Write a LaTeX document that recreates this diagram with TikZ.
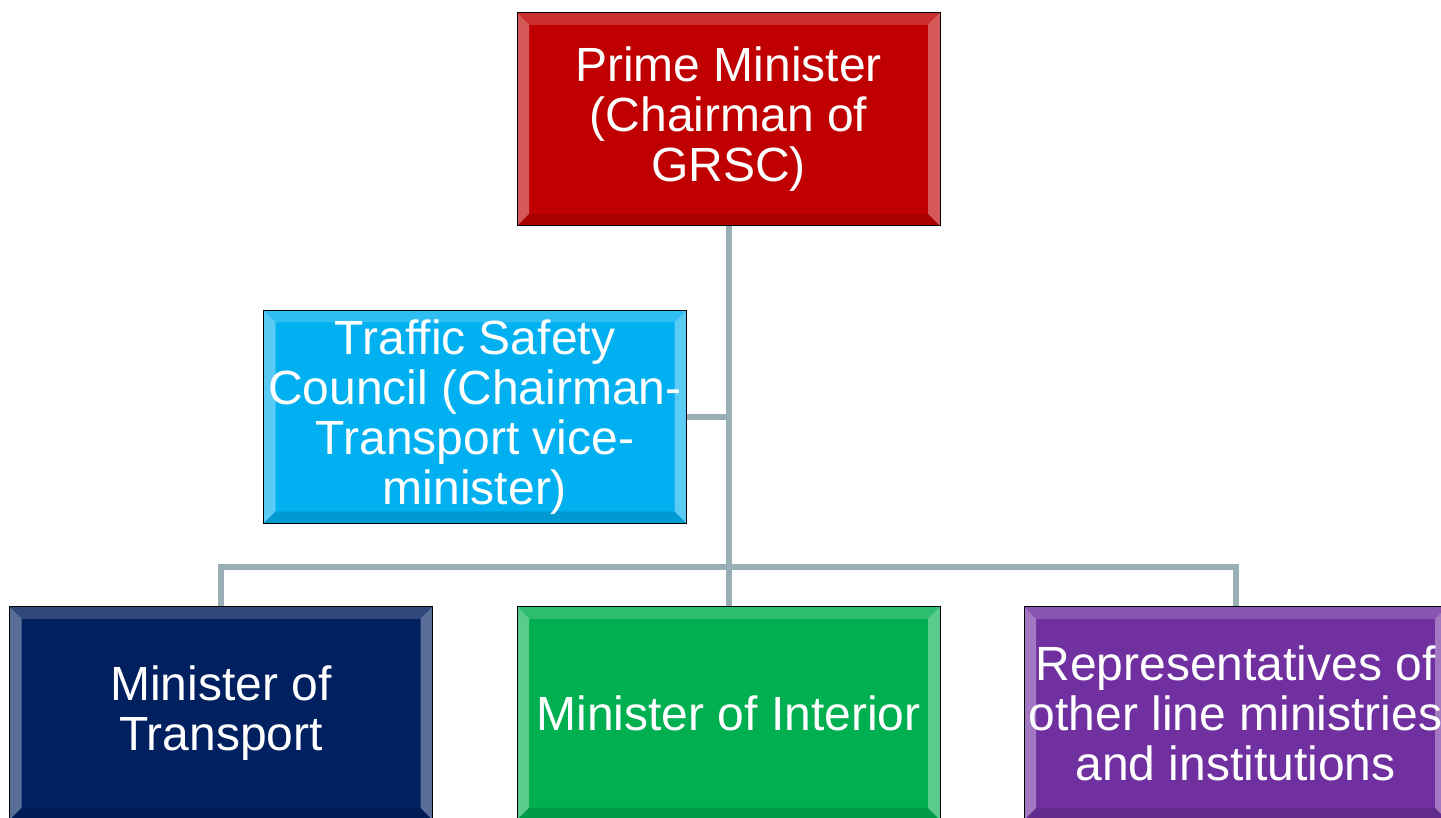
\documentclass[tikz,border=0pt]{standalone}
\usepackage{fontspec}
\setmainfont{Liberation Sans}
\usetikzlibrary{calc,positioning}

\definecolor{pmred}{HTML}{C00000}
\definecolor{tscblue}{HTML}{00B0F0}
\definecolor{motnavy}{HTML}{002060}
\definecolor{mointgreen}{HTML}{00B050}
\definecolor{reppurple}{HTML}{7030A0}
\definecolor{linkgray}{HTML}{97AFB5}

\tikzset{
  orgbox/.style={draw=black,line width=1pt,fill=#1,text=white,
    minimum width=423pt,minimum height=213pt,inner sep=0pt,align=center,
    font=\fontsize{48}{50}\selectfont,
    path picture={
      \coordinate (cSWPt) at (path picture bounding box.south west);
      \coordinate (cNWPt) at (path picture bounding box.north west);
      \coordinate (cSEPt) at (path picture bounding box.south east);
      \coordinate (cNEPt) at (path picture bounding box.north east);
      \fill[white,opacity=.35] (cSWPt) -- (cNWPt) -- ($(cNWPt)+(12,-12)$) -- ($(cSWPt)+(12,12)$) -- cycle;
      \fill[white,opacity=.35] (cSEPt) -- (cNEPt) -- ($(cNEPt)+(-12,-12)$) -- ($(cSEPt)+(-12,12)$) -- cycle;
      \fill[white,opacity=.18] (cNWPt) -- (cNEPt) -- ($(cNEPt)+(-12,-12)$) -- ($(cNWPt)+(12,-12)$) -- cycle;
      \fill[black,opacity=.12] (cSWPt) -- (cSEPt) -- ($(cSEPt)+(-12,12)$) -- ($(cSWPt)+(12,12)$) -- cycle;
    }},
  link/.style={draw=linkgray,line width=6pt}
}

\begin{document}
\begin{tikzpicture}[x=1pt,y=1pt]
\useasboundingbox (0,0) rectangle (1441,818);
\clip (0,0) rectangle (1441,818);
%組織圖
\node[orgbox=pmred] (nPM) at (728.5,698.5) {Prime Minister\\(Chairman of\\GRSC)};
\node[orgbox=tscblue] (nTSC) at (475,401) {Traffic Safety\\Council (Chairman-\\Transport vice-\\minister)};
\node[orgbox=motnavy] (nMoT) at (221,104.5) {Minister of\\Transport};
\node[orgbox=mointgreen] (nMoI) at (728.5,104.5) {Minister of Interior};
\node[orgbox=reppurple] (nRep) at (1235.5,104.5) {Representatives of\\other line ministries\\and institutions};

\coordinate (cBusPt) at (728.5,251);

\draw[link] (nPM.south) -- (nMoI.north);
\draw[link] (nTSC.east) -- (nTSC.east -| nPM.south);
\draw[link] (nMoT.north) |- (cBusPt) -| (nRep.north);
\end{tikzpicture}
\end{document}
